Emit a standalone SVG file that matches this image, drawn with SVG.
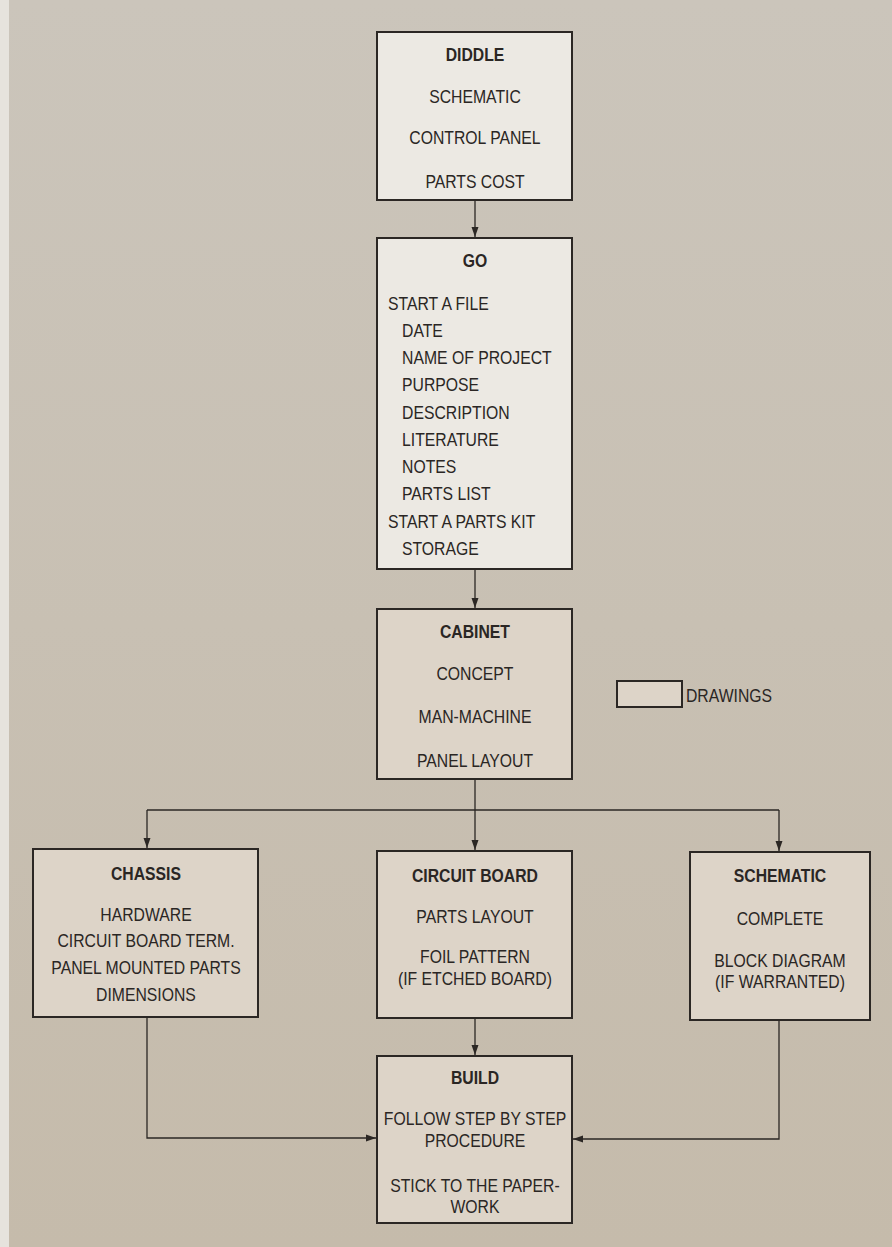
<svg xmlns="http://www.w3.org/2000/svg" width="892" height="1247" viewBox="0 0 892 1247">
<defs>
<marker id="arr" viewBox="0 0 10 10" refX="10" refY="5" markerWidth="10" markerHeight="10" markerUnits="userSpaceOnUse" orient="auto">
<path d="M0,1.5 L10,5 L0,8.5 Z" fill="#2b2724"/>
</marker>
<linearGradient id="bg" x1="0" y1="0" x2="0" y2="1">
<stop offset="0" stop-color="#cbc5bb"/>
<stop offset="1" stop-color="#c5bbab"/>
</linearGradient>
</defs>
<style>
.t{font-family:"Liberation Sans",Arial,sans-serif;font-size:19px;fill:#2a2624;text-anchor:middle}
.b{font-weight:bold}
.l{text-anchor:start}
.w{fill:#ece9e3;stroke:#2b2724;stroke-width:2}
.k{fill:#ddd4c8;stroke:#2b2724;stroke-width:2}
.c{fill:none;stroke:#2b2724;stroke-width:1.3}
</style>
<rect x="0" y="0" width="892" height="1247" fill="url(#bg)"/>
<rect x="0" y="0" width="9" height="1247" fill="#e6e3dd"/>

<g id="connectors">
<line class="c" x1="475" y1="200" x2="475" y2="237" marker-end="url(#arr)"/>
<line class="c" x1="475" y1="569" x2="475" y2="608" marker-end="url(#arr)"/>
<line class="c" x1="475" y1="779" x2="475" y2="810"/>
<line class="c" x1="147" y1="810" x2="779" y2="810"/>
<line class="c" x1="147" y1="810" x2="147" y2="848" marker-end="url(#arr)"/>
<line class="c" x1="475" y1="810" x2="475" y2="850" marker-end="url(#arr)"/>
<line class="c" x1="779" y1="810" x2="779" y2="851" marker-end="url(#arr)"/>
<line class="c" x1="475" y1="1018" x2="475" y2="1055" marker-end="url(#arr)"/>
<polyline class="c" points="147,1017 147,1138 376,1138" marker-end="url(#arr)"/>
<polyline class="c" points="779,1020 779,1139 573,1139" marker-end="url(#arr)"/>
</g>

<g id="diddle">
<rect class="w" x="377" y="32" width="195" height="168"/>
<g transform="matrix(0.83,0,0,1,80.75,0)">
<text class="t b" x="475" y="61">DIDDLE</text>
<text class="t" x="475" y="103">SCHEMATIC</text>
<text class="t" x="475" y="144">CONTROL PANEL</text>
<text class="t" x="475" y="188">PARTS COST</text>
</g>
</g>

<g id="go">
<rect class="w" x="377" y="238" width="195" height="331"/>
<g transform="matrix(0.83,0,0,1,80.75,0)">
<text class="t b" x="475" y="267">GO</text>
</g>
<g transform="matrix(0.83,0,0,1,65.96,0)">
<text class="t l" x="388" y="310">START A FILE</text>
<text class="t l" x="404.9" y="337">DATE</text>
<text class="t l" x="404.9" y="364">NAME OF PROJECT</text>
<text class="t l" x="404.9" y="391">PURPOSE</text>
<text class="t l" x="404.9" y="419">DESCRIPTION</text>
<text class="t l" x="404.9" y="446">LITERATURE</text>
<text class="t l" x="404.9" y="473">NOTES</text>
<text class="t l" x="404.9" y="500">PARTS LIST</text>
<text class="t l" x="388" y="528">START A PARTS KIT</text>
<text class="t l" x="404.9" y="555">STORAGE</text>
</g>
</g>

<g id="cabinet">
<rect class="k" x="377" y="609" width="195" height="170"/>
<g transform="matrix(0.83,0,0,1,80.75,0)">
<text class="t b" x="475" y="638">CABINET</text>
<text class="t" x="475" y="680">CONCEPT</text>
<text class="t" x="475" y="723">MAN-MACHINE</text>
<text class="t" x="475" y="767">PANEL LAYOUT</text>
</g>
</g>

<g id="legend">
<rect class="k" x="617" y="681" width="65" height="26"/>
<g transform="matrix(0.83,0,0,1,116.62,0)">
<text class="t l" x="686" y="702">DRAWINGS</text>
</g>
</g>

<g id="chassis">
<rect class="k" x="33" y="849" width="225" height="168"/>
<g transform="matrix(0.83,0,0,1,24.82,0)">
<text class="t b" x="146" y="880">CHASSIS</text>
<text class="t" x="146" y="921">HARDWARE</text>
<text class="t" x="146" y="947">CIRCUIT BOARD TERM.</text>
<text class="t" x="146" y="974">PANEL MOUNTED PARTS</text>
<text class="t" x="146" y="1001">DIMENSIONS</text>
</g>
</g>

<g id="circuit-board">
<rect class="k" x="377" y="851" width="195" height="167"/>
<g transform="matrix(0.83,0,0,1,80.75,0)">
<text class="t b" x="475" y="882">CIRCUIT BOARD</text>
<text class="t" x="475" y="923">PARTS LAYOUT</text>
<text class="t" x="475" y="963">FOIL PATTERN</text>
<text class="t" x="475" y="985">(IF ETCHED BOARD)</text>
</g>
</g>

<g id="schematic">
<rect class="k" x="690" y="852" width="180" height="168"/>
<g transform="matrix(0.83,0,0,1,132.6,0)">
<text class="t b" x="780" y="882">SCHEMATIC</text>
<text class="t" x="780" y="925">COMPLETE</text>
<text class="t" x="780" y="967">BLOCK DIAGRAM</text>
<text class="t" x="780" y="988">(IF WARRANTED)</text>
</g>
</g>

<g id="build">
<rect class="k" x="377" y="1056" width="195" height="167"/>
<g transform="matrix(0.83,0,0,1,80.75,0)">
<text class="t b" x="475" y="1084">BUILD</text>
<text class="t" x="475" y="1125">FOLLOW STEP BY STEP</text>
<text class="t" x="475" y="1147">PROCEDURE</text>
<text class="t" x="475" y="1192">STICK TO THE PAPER-</text>
<text class="t" x="475" y="1213">WORK</text>
</g>
</g>
</svg>
